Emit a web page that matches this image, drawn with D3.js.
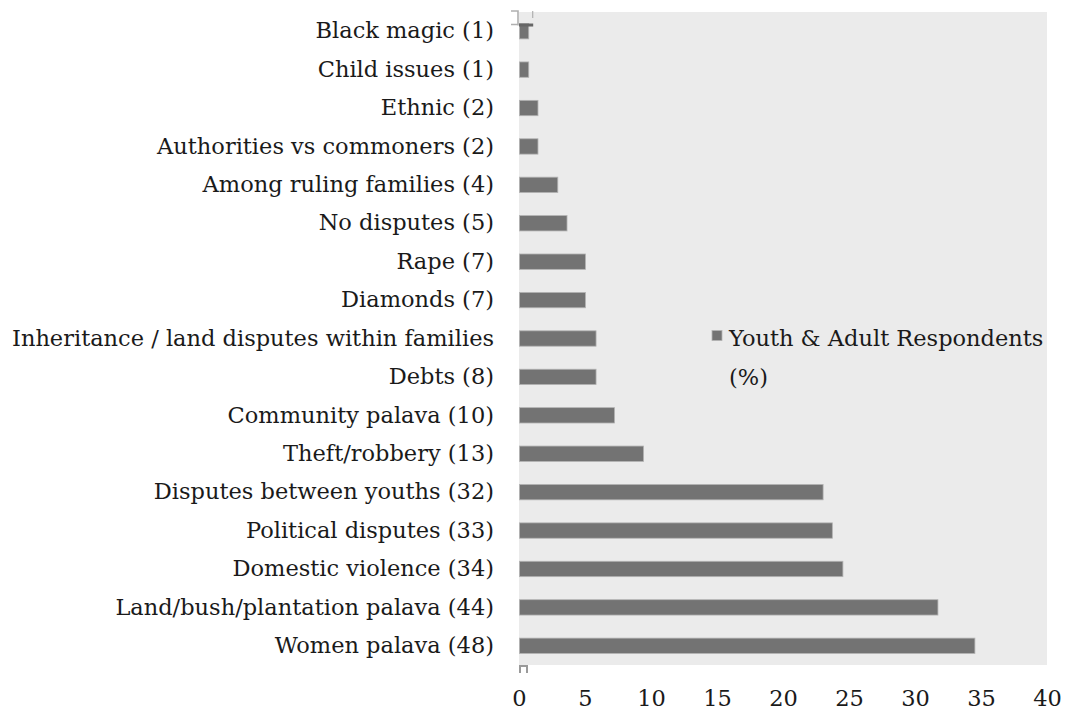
<!DOCTYPE html>
<html>
<head>
<meta charset="utf-8">
<script src="https://cdn.jsdelivr.net/npm/d3@7"></script>
<style>
  html, body { margin: 0; padding: 0; background: #ffffff; }
  svg { display: block; }
  text { font-family: "DejaVu Serif", "Liberation Serif", serif; fill: #1a1a1a; }
</style>
</head>
<body>
<svg id="chart" width="1066" height="711"></svg>
<script>
// Dispute types, listed top to bottom
const categories = [
  "Black magic (1)",
  "Child issues (1)",
  "Ethnic (2)",
  "Authorities vs commoners (2)",
  "Among ruling families (4)",
  "No disputes (5)",
  "Rape (7)",
  "Diamonds (7)",
  "Inheritance / land disputes within families",
  "Debts (8)",
  "Community palava (10)",
  "Theft/robbery (13)",
  "Disputes between youths (32)",
  "Political disputes (33)",
  "Domestic violence (34)",
  "Land/bush/plantation palava (44)",
  "Women palava (48)"
];

// Share of youth & adult respondents (%)
const respondentsPct = [
  0.7, 0.7, 1.4, 1.4, 2.9, 3.6, 5.0, 5.0, 5.8, 5.8,
  7.2, 9.4, 23.0, 23.7, 24.5, 31.7, 34.5
];

const xTicks = [0, 5, 10, 15, 20, 25, 30, 35, 40];
const seriesName = ["Youth & Adult Respondents", "(%)"];

const rows = categories.map((c, i) => ({ category: c, value: respondentsPct[i] }));

const svg = d3.select("#chart");
const plot = { left: 519, right: 1047, top: 12, bottom: 665 };
const fontSize = 22.5;

const x = d3.scaleLinear().domain([0, 40]).range([plot.left, plot.right]);
const y = d3.scaleBand().domain(categories).range([plot.top, plot.bottom]).paddingInner(0.6).paddingOuter(0.3);

// plot background
svg.append("rect")
  .attr("x", plot.left).attr("y", plot.top)
  .attr("width", plot.right - plot.left).attr("height", plot.bottom - plot.top)
  .attr("fill", "#ebebeb");

// bars
svg.append("g").selectAll("rect")
  .data(rows)
  .join("rect")
  .attr("x", x(0) + 0.5)
  .attr("y", d => y(d.category))
  .attr("width", d => x(d.value) - x(0))
  .attr("height", y.bandwidth())
  .attr("fill", "#737373")
  .attr("stroke", "#b3b3b3")
  .attr("stroke-width", 0.8);

// category labels
const yAxis = d3.axisLeft(y).tickSize(0).tickPadding(25);
const gy = svg.append("g").attr("transform", `translate(${plot.left},0)`).call(yAxis);
gy.select(".domain").remove();
gy.selectAll("text")
  .attr("font-family", "DejaVu Serif, Liberation Serif, serif")
  .attr("font-size", fontSize)
  .attr("fill", "#1a1a1a");

// value axis labels
const xAxis = d3.axisBottom(x).tickValues(xTicks).tickSize(0).tickPadding(0);
const gx = svg.append("g").attr("transform", `translate(0,${plot.bottom + 25})`).call(xAxis);
gx.select(".domain").remove();
gx.selectAll("text")
  .attr("font-family", "DejaVu Serif, Liberation Serif, serif")
  .attr("font-size", fontSize)
  .attr("fill", "#1a1a1a")
  .attr("dy", "0.71em");

// legend
const legendRow = y(categories[8]) + y.bandwidth() / 2;
const legend = svg.append("g").attr("transform", `translate(${x(15)},${legendRow})`);
legend.append("rect")
  .attr("x", -5).attr("y", -8).attr("width", 10).attr("height", 10)
  .attr("fill", "#737373").attr("stroke", "#b3b3b3").attr("stroke-width", 0.8);
legend.selectAll("text")
  .data(seriesName)
  .join("text")
  .attr("x", 12)
  .attr("y", (d, i) => i * y.step())
  .attr("dy", "0.35em")
  .attr("font-size", fontSize)
  .text(d => d);

// selection handles around the chart corner
const top0 = y(categories[0]);
const handles = svg.append("g").attr("fill", "none");
handles.append("path")
  .attr("d", `M${x(0) - 8},${plot.top - 1} H${x(0) - 1} V${top0 + 2} M${x(0) - 8},${top0 + 1} H${x(0) - 1}`)
  .attr("stroke", "#b0b0b0").attr("stroke-width", 1.6);
handles.append("path")
  .attr("d", `M${x(1) + 0.5},${plot.top - 1} V${plot.top + 6}`)
  .attr("stroke", "#b0b0b0").attr("stroke-width", 1.2);
handles.append("path")
  .attr("d", `M${x(0)},${top0 + 1.5} H${x(1) + 1}`)
  .attr("stroke", "#666666").attr("stroke-width", 3);
handles.append("path")
  .attr("d", `M${x(0) + 1},${plot.bottom + 8} V${plot.bottom + 1} H${x(0) + 8} V${plot.bottom + 8}`)
  .attr("stroke", "#9a9a9a").attr("stroke-width", 2);
</script>
</body>
</html>
